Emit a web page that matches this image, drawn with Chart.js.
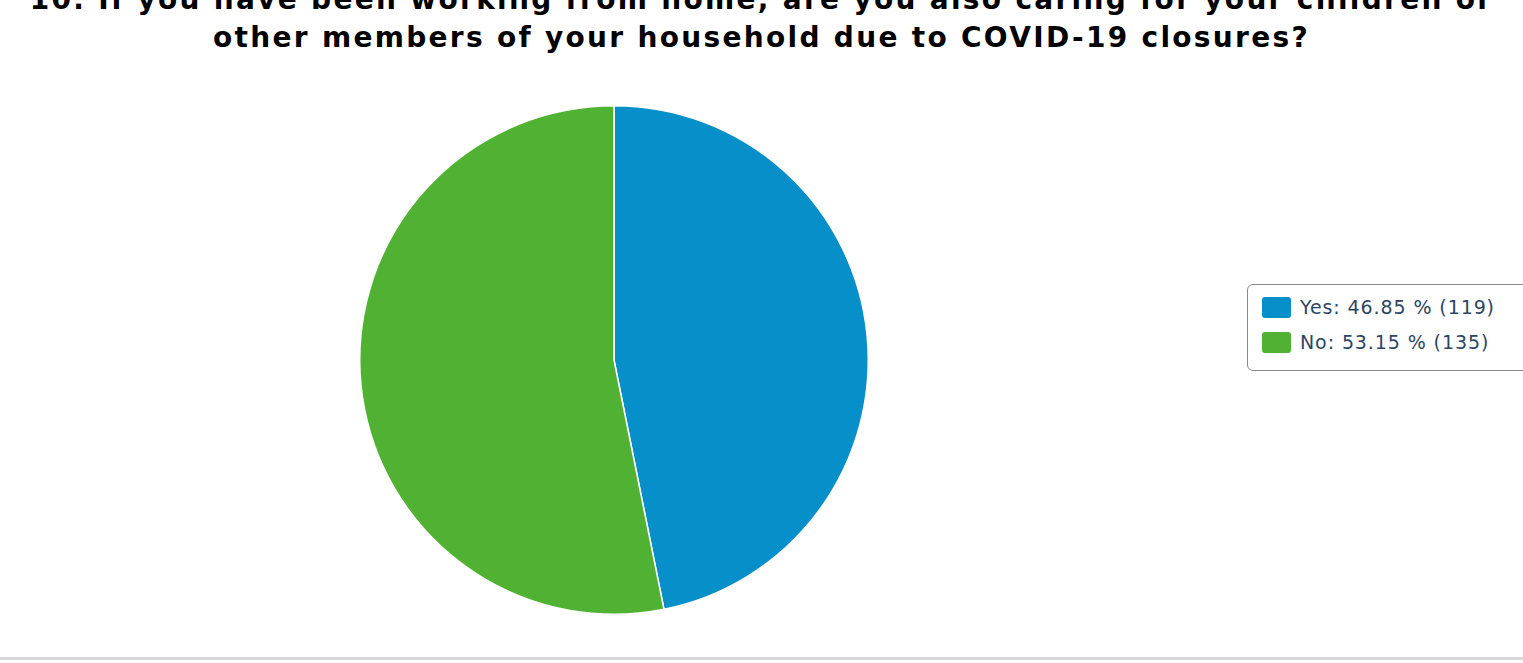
<!DOCTYPE html>
<html><head><meta charset="utf-8">
<script src="https://cdn.jsdelivr.net/npm/chart.js@4"></script>
<style>
html,body{margin:0;padding:0;background:#fff;width:1523px;height:663px;overflow:hidden;position:relative;font-family:"DejaVu Sans",sans-serif;}
#title{position:absolute;left:0;width:1523px;top:-19px;text-align:center;font-weight:bold;font-size:28px;line-height:38px;letter-spacing:2.3px;color:#000;}
#wrap{position:absolute;left:0;top:0;width:1523px;height:663px;}
#legend{position:absolute;left:1247px;top:284px;width:290px;height:87px;border:1.5px solid #8a8a8a;border-radius:6px;background:#fff;box-sizing:border-box;}
.item{position:absolute;left:14px;height:22px;font-size:19px;letter-spacing:0.9px;color:#2b4664;white-space:nowrap;}
.sw{position:absolute;left:0;top:0;width:29px;height:21px;border-radius:3px;}
.lt{position:absolute;left:38px;top:-1px;line-height:22px;}
#bottom{position:absolute;left:0;top:657px;width:1523px;height:3px;background:#d9d9d9;}
</style></head>
<body>
<div id="title"></div>
<div id="wrap"><canvas id="c" width="1523" height="663"></canvas></div>
<div id="legend"></div>
<div id="bottom"></div>
<script>
const titleLines = ["10. If you have been working from home, are you also caring for your children or", "other members of your household due to COVID-19 closures?"];
const categories = ["Yes", "No"];
const percents = [46.85, 53.15];
const counts = [119, 135];
const colors = ["#068fc8", "#51b133"];

document.getElementById('title').innerHTML = titleLines.join('<br>');
const lg = document.getElementById('legend');
categories.forEach((c, i) => {
  const d = document.createElement('div');
  d.className = 'item';
  d.style.top = (12 + i * 35) + 'px';
  d.innerHTML = '<div class="sw" style="background:' + colors[i] + '"></div><div class="lt">' + c + ': ' + percents[i].toFixed(2) + ' % (' + counts[i] + ')</div>';
  lg.appendChild(d);
});

new Chart(document.getElementById('c'), {
  type: 'pie',
  data: { labels: categories, datasets: [{ data: counts, backgroundColor: colors, borderColor: '#ffffff', borderWidth: 1.5 }] },
  options: {
    responsive: false, animation: false,
    layout: { padding: { left: 359, right: 654, top: 105, bottom: 48 } },
    plugins: { legend: { display: false }, tooltip: { enabled: false }, title: { display: false } }
  }
});
</script>
</body></html>
